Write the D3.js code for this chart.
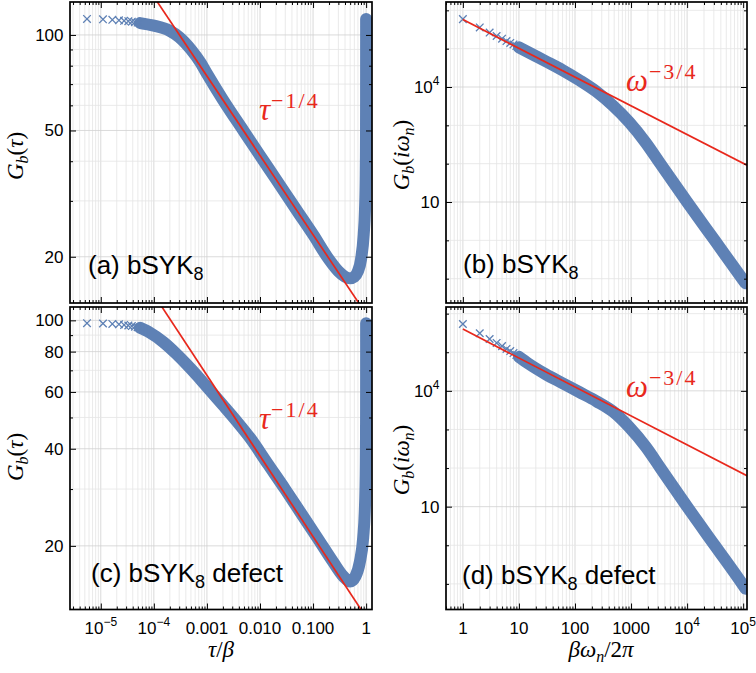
<!DOCTYPE html>
<html>
<head>
<meta charset="utf-8">
<script src="https://cdn.jsdelivr.net/npm/d3@7"></script>
<style>
  body { margin: 0; background: #fff; }
  svg { display: block; }
  .tlabel { font-family: "Liberation Sans", Arial, sans-serif; font-size: 17px; fill: #000; }
  .plabel { font-family: "Liberation Sans", Arial, sans-serif; font-size: 26px; fill: #000; }
  .math { font-family: "Liberation Serif", "Times New Roman", serif; }
</style>
</head>
<body>
<svg id="chart" width="756" height="673"></svg>
<script>
// ---- data ----

// (a) bSYK8, G_b(tau)
var tauMarksA = [5.5e-6, 1.1e-5, 1.65e-5, 2.2e-5, 2.75e-5, 3.3e-5, 3.85e-5, 4.4e-5, 4.95e-5, 5.5e-5];
var gMarksA   = [112.3, 112.0, 111.6, 111.2, 110.8, 110.5, 110.1, 109.7, 109.4, 109.0];
var tauA = [5.5e-5, 1e-4, 2e-4, 3e-4, 5e-4, 7.5e-4, 1e-3, 2e-3, 5e-3, 0.01, 0.02, 0.05, 0.1, 0.2, 0.3, 0.4, 0.5,
            0.6, 0.7, 0.8, 0.9, 0.95, 0.98, 0.99, 0.995, 0.998, 0.999, 0.9995, 0.9997, 0.9998, 0.9999, 0.99995, 0.99998, 0.999995];
var gA   = [109, 107, 103, 98.5, 90, 82, 75.5, 62.5, 49.6, 41.7, 35.1, 27.9, 23.5, 19.6, 18.0, 17.3, 17.1,
            17.3, 18.0, 19.6, 23.5, 27.9, 35.1, 41.7, 49.6, 62.5, 75.5, 90, 98.5, 103, 107, 109, 111, 112.3];
var fitTauA = [1e-5, 2];
var fitGA   = [234.7, 11.1];

// (c) bSYK8 defect, G_b(tau)
var tauMarksC = [5.5e-6, 1.1e-5, 1.65e-5, 2.2e-5, 2.75e-5, 3.3e-5, 3.85e-5, 4.4e-5, 4.95e-5, 5.5e-5];
var gMarksC   = [98, 97.8, 97.5, 97.2, 96.8, 96.4, 96.0, 95.6, 95.2, 94.8];
var tauC = [5.5e-5, 8.4e-5, 1.5e-4, 2.7e-4, 4.2e-4, 6.5e-4, 1.1e-3, 2e-3, 3.7e-3, 6.5e-3, 0.014, 0.03, 0.057, 0.12, 0.24, 0.37, 0.5,
            0.63, 0.76, 0.88, 0.943, 0.97, 0.986, 0.9935, 0.9963, 0.998, 0.9989, 0.99935, 0.99958, 0.99973, 0.99985, 0.999916, 0.999945, 0.999995];
var gC   = [94.8, 91.6, 85.7, 78.5, 72.9, 67.5, 61.1, 54.6, 48.5, 43.2, 35.9, 29.9, 25.5, 21.2, 17.8, 16.1, 15.5,
            16.1, 17.8, 21.2, 25.5, 29.9, 35.9, 43.2, 48.5, 54.6, 61.1, 67.5, 72.9, 78.5, 85.7, 91.6, 94.8, 98];
var fitTauC = [1e-5, 2];
var fitGC   = [213.7, 10.1];

// (b) bSYK8, G_b(i omega_n)
var omegaMarks = [1, 2, 3, 4, 5, 6, 7, 8, 9, 10];
var gMarksB = [5.9e5, 3.59e5, 2.63e5, 2.14e5, 1.82e5, 1.58e5, 1.41e5, 1.29e5, 1.17e5, 1.08e5];
var omegaB = [10, 20, 30, 60, 120, 240, 470, 930, 1850, 3250, 1e4, 3.1e4, 9.6e4, 1.1e5];
var gB     = [1.08e5, 6.4e4, 4.7e4, 2.75e4, 1.5e4, 7600, 3300, 1200, 345, 105, 10, 1, 0.1, 0.076];
var fitOmegaB = [1, 2e5];
var fitGB     = [5.75e5, 60.8];

// (d) bSYK8 defect, G_b(i omega_n)
var gMarksD = [5.4e5, 3.1e5, 2.2e5, 1.74e5, 1.44e5, 1.22e5, 1.07e5, 9.5e4, 8.5e4, 7.6e4];
var omegaD = [10, 15, 30, 60, 120, 240, 470, 930, 1850, 3300, 1e4, 3.1e4, 9.6e4, 1.1e5];
var gD     = [7.6e4, 5.0e4, 2.7e4, 1.58e4, 9250, 5400, 2950, 1150, 350, 103, 10, 1, 0.1, 0.075];
var fitOmegaD = [1, 2e5];
var fitGD     = [3.98e5, 42.1];

// axis ranges and tick labels
var tauDomain = [2.63e-6, 1.29];
var omegaDomain = [0.5, 1.17e5];
var tauTicks = [1e-5, 1e-4, 1e-3, 1e-2, 1e-1, 1];
var tauTickLabels = [["10", "\u22125"], ["10", "\u22124"], ["0.001", ""], ["0.010", ""], ["0.100", ""], ["1", ""]];
var omegaTicks = [1, 10, 100, 1000, 1e4, 1e5];
var omegaTickLabels = [["1", ""], ["10", ""], ["100", ""], ["1000", ""], ["10", "4"], ["10", "5"]];
var gTauTicksA = [20, 50, 100];
var gTauTicksC = [20, 40, 60, 80, 100];
var gOmegaTicks = [10, 1e4];
var gOmegaTickLabels = [["10", ""], ["10", "4"]];

// ---- drawing ----
var svg = d3.select("#chart");
var blue = "#5e81b5", red = "#e8281c";

function isDecade(v) { return Math.abs(Math.log10(v) - Math.round(Math.log10(v))) < 1e-6; }
function cross(s) { return "M" + (-s) + "," + (-s) + "L" + s + "," + s + "M" + (-s) + "," + s + "L" + s + "," + (-s); }

function powText(sel, pair, supSize) {
  sel.append("tspan").text(pair[0]);
  if (pair[1]) sel.append("tspan").attr("font-size", supSize).attr("dy", -8).text(pair[1]);
}

// math text: parts are [text, italic, subscript]
function mathText(sel, parts, subSize) {
  var off = 0;
  parts.forEach(function(part) {
    var t = sel.append("tspan").text(part[0]);
    if (part[1]) t.attr("font-style", "italic");
    var want = part[2] ? 5 : 0;
    if (want !== off) { t.attr("dy", want - off); off = want; }
    if (part[2]) t.attr("font-size", subSize);
  });
}

function drawPanel(p) {
  var x = d3.scaleLog().domain(p.xDomain).range([p.left, p.right]);
  var y = d3.scaleLog().domain(p.yDomain).range([p.bottom, p.top]);
  var g = svg.append("g");

  svg.append("clipPath").attr("id", "clip-" + p.id)
    .append("rect").attr("x", p.left).attr("y", p.top)
    .attr("width", p.right - p.left).attr("height", p.bottom - p.top);

  // grid
  var xg = x.ticks();
  var yg = p.decadeGridY ? y.ticks().filter(isDecade) : y.ticks();
  g.append("g").selectAll("line").data(xg).enter().append("line")
    .attr("x1", function(d) { return x(d); }).attr("x2", function(d) { return x(d); })
    .attr("y1", p.top).attr("y2", p.bottom)
    .attr("stroke", function(d) { return isDecade(d) ? "#cfcfcf" : "#e4e4e4"; })
    .attr("stroke-width", 0.8);
  g.append("g").selectAll("line").data(yg).enter().append("line")
    .attr("y1", function(d) { return y(d); }).attr("y2", function(d) { return y(d); })
    .attr("x1", p.left).attr("x2", p.right)
    .attr("stroke", function(d) { return p.yTicks.indexOf(d) >= 0 ? "#d2d2d2" : "#e4e4e4"; })
    .attr("stroke-width", 0.8);

  var plot = g.append("g").attr("clip-path", "url(#clip-" + p.id + ")");

  // thick band of dense markers
  var band = p.xs.map(function(d, i) { return [d, p.ys[i]]; });
  var line = d3.line()
    .x(function(d) { return x(d[0]); })
    .y(function(d) { return y(d[1]); })
    .curve(d3.curveMonotoneX);
  plot.append("path").datum(band)
    .attr("d", line).attr("fill", "none").attr("stroke", blue)
    .attr("stroke-width", 12).attr("stroke-linejoin", "round").attr("stroke-linecap", "round");

  // sparse markers
  plot.selectAll(".mk").data(p.mx).enter().append("path")
    .attr("class", "mk")
    .attr("transform", function(d, i) { return "translate(" + x(d) + "," + y(p.my[i]) + ")"; })
    .attr("d", cross(3.8)).attr("stroke", blue).attr("stroke-width", 1.3).attr("fill", "none");

  // power-law guide
  var fit = p.fx.map(function(d, i) { return [d, p.fy[i]]; });
  plot.append("path").datum(fit)
    .attr("d", d3.line().x(function(d) { return x(d[0]); }).y(function(d) { return y(d[1]); }))
    .attr("fill", "none").attr("stroke", red).attr("stroke-width", 1.7);

  // frame ticks
  function tickAxis(axis, tx, ty, vals, size) {
    var a = g.append("g").attr("transform", "translate(" + tx + "," + ty + ")")
      .call(axis.tickValues(vals).tickSize(-size).tickFormat(""));
    a.select(".domain").remove();
    a.selectAll("line").attr("stroke", "#000").attr("stroke-width", 1);
  }
  var xMaj = p.xTicks, yMaj = p.yTicks;
  var xMin = xg.filter(function(d) { return xMaj.indexOf(d) < 0; });
  var yMin = yg.filter(function(d) { return yMaj.indexOf(d) < 0; });
  tickAxis(d3.axisBottom(x), 0, p.bottom, xMaj, 6);
  tickAxis(d3.axisBottom(x), 0, p.bottom, xMin, 3);
  tickAxis(d3.axisTop(x), 0, p.top, xMaj, 6);
  tickAxis(d3.axisTop(x), 0, p.top, xMin, 3);
  tickAxis(d3.axisLeft(y), p.left, 0, yMaj, 6);
  tickAxis(d3.axisLeft(y), p.left, 0, yMin, 3);
  tickAxis(d3.axisRight(y), p.right, 0, yMaj, 6);
  tickAxis(d3.axisRight(y), p.right, 0, yMin, 3);

  // frame
  g.append("rect").attr("x", p.left).attr("y", p.top)
    .attr("width", p.right - p.left).attr("height", p.bottom - p.top)
    .attr("fill", "none").attr("stroke", "#000").attr("stroke-width", 1.7);

  // y tick labels
  g.selectAll(".ylab").data(p.yTicks).enter().append("text")
    .attr("class", "tlabel").attr("text-anchor", "end")
    .attr("x", p.left - 6.5).attr("y", function(d) { return y(d) + 6; })
    .each(function(d, i) { powText(d3.select(this), p.yLabels[i], 12); });

  // x tick labels
  if (p.xLabels) {
    g.selectAll(".xlab").data(p.xTicks).enter().append("text")
      .attr("class", "tlabel").attr("text-anchor", "middle")
      .attr("x", function(d) { return x(d); }).attr("y", p.bottom + 24)
      .each(function(d, i) { powText(d3.select(this), p.xLabels[i], 12); });
  }

  // panel label
  var pl = g.append("text").attr("class", "plabel").attr("x", p.labelX).attr("y", p.labelY);
  pl.append("tspan").text(p.label[0]);
  pl.append("tspan").attr("font-size", 18).attr("dy", 6).text("8");
  if (p.label[1]) pl.append("tspan").attr("dy", -6).text(p.label[1]);

  // red annotation
  var an = g.append("text").attr("class", "math").attr("fill", red)
    .attr("x", p.annX).attr("y", p.annY);
  an.append("tspan").attr("font-style", "italic").attr("font-size", 31).text(p.ann[0]);
  an.append("tspan").attr("font-size", 22).attr("dy", -12).attr("dx", 1).attr("letter-spacing", 2).text(p.ann[1]);

  // y title
  var yt = g.append("text").attr("class", "math").attr("font-size", 23)
    .attr("text-anchor", "middle")
    .attr("transform", "translate(" + p.ytX + "," + p.ytY + ") rotate(-90)");
  mathText(yt, p.ytParts, 16);

  return { x: x, y: y };
}

var tauTitle = [["G", true], ["b", true, true], ["("], ["\u03c4", true], [")"]];
var omegaTitle = [["G", true], ["b", true, true], ["("], ["i\u03c9", true], ["n", true, true], [")"]];

drawPanel({ id: "a", left: 70, right: 372, top: 2, bottom: 303, xDomain: tauDomain, yDomain: [14.3, 127],
  xs: tauA, ys: gA, mx: tauMarksA, my: gMarksA, fx: fitTauA, fy: fitGA,
  xTicks: tauTicks, yTicks: gTauTicksA, yLabels: gTauTicksA.map(function(v) { return [String(v), ""]; }),
  label: ["(a) bSYK", ""], labelX: 88, labelY: 274, ann: ["\u03c4", "\u22121/4"], annX: 259, annY: 120,
  ytX: 23, ytY: 156, ytParts: tauTitle });
drawPanel({ id: "c", left: 70, right: 372, top: 307, bottom: 609.5, xDomain: tauDomain, yDomain: [12.7, 110],
  xs: tauC, ys: gC, mx: tauMarksC, my: gMarksC, fx: fitTauC, fy: fitGC,
  xTicks: tauTicks, yTicks: gTauTicksC, yLabels: gTauTicksC.map(function(v) { return [String(v), ""]; }),
  xLabels: tauTickLabels,
  label: ["(c) bSYK", " defect"], labelX: 91, labelY: 582, ann: ["\u03c4", "\u22121/4"], annX: 259, annY: 429,
  ytX: 23, ytY: 457, ytParts: tauTitle });
drawPanel({ id: "b", left: 446, right: 747, top: 2, bottom: 303, xDomain: omegaDomain, yDomain: [0.0232, 1.65e6],
  decadeGridY: true,
  xs: omegaB, ys: gB, mx: omegaMarks, my: gMarksB, fx: fitOmegaB, fy: fitGB,
  xTicks: omegaTicks, yTicks: gOmegaTicks, yLabels: gOmegaTickLabels,
  label: ["(b) bSYK", ""], labelX: 463, labelY: 273, ann: ["\u03c9", "\u22123/4"], annX: 626, annY: 91,
  ytX: 409, ytY: 155, ytParts: omegaTitle });
drawPanel({ id: "d", left: 446, right: 747, top: 307, bottom: 609.5, xDomain: omegaDomain, yDomain: [0.0217, 1.486e6],
  decadeGridY: true,
  xs: omegaD, ys: gD, mx: omegaMarks, my: gMarksD, fx: fitOmegaD, fy: fitGD,
  xTicks: omegaTicks, yTicks: gOmegaTicks, yLabels: gOmegaTickLabels, xLabels: omegaTickLabels,
  label: ["(d) bSYK", " defect"], labelX: 462, labelY: 584, ann: ["\u03c9", "\u22123/4"], annX: 626, annY: 397,
  ytX: 409, ytY: 460, ytParts: omegaTitle });

// x axis titles
var xt1 = svg.append("text").attr("class", "math").attr("font-size", 23)
  .attr("text-anchor", "middle").attr("x", 221).attr("y", 657);
mathText(xt1, [["\u03c4", true], ["/"], ["\u03b2", true]], 16);

var xt2 = svg.append("text").attr("class", "math").attr("font-size", 23)
  .attr("text-anchor", "middle").attr("x", 601).attr("y", 657);
mathText(xt2, [["\u03b2\u03c9", true], ["n", true, true], ["/2"], ["\u03c0", true]], 16);
</script>
</body>
</html>
